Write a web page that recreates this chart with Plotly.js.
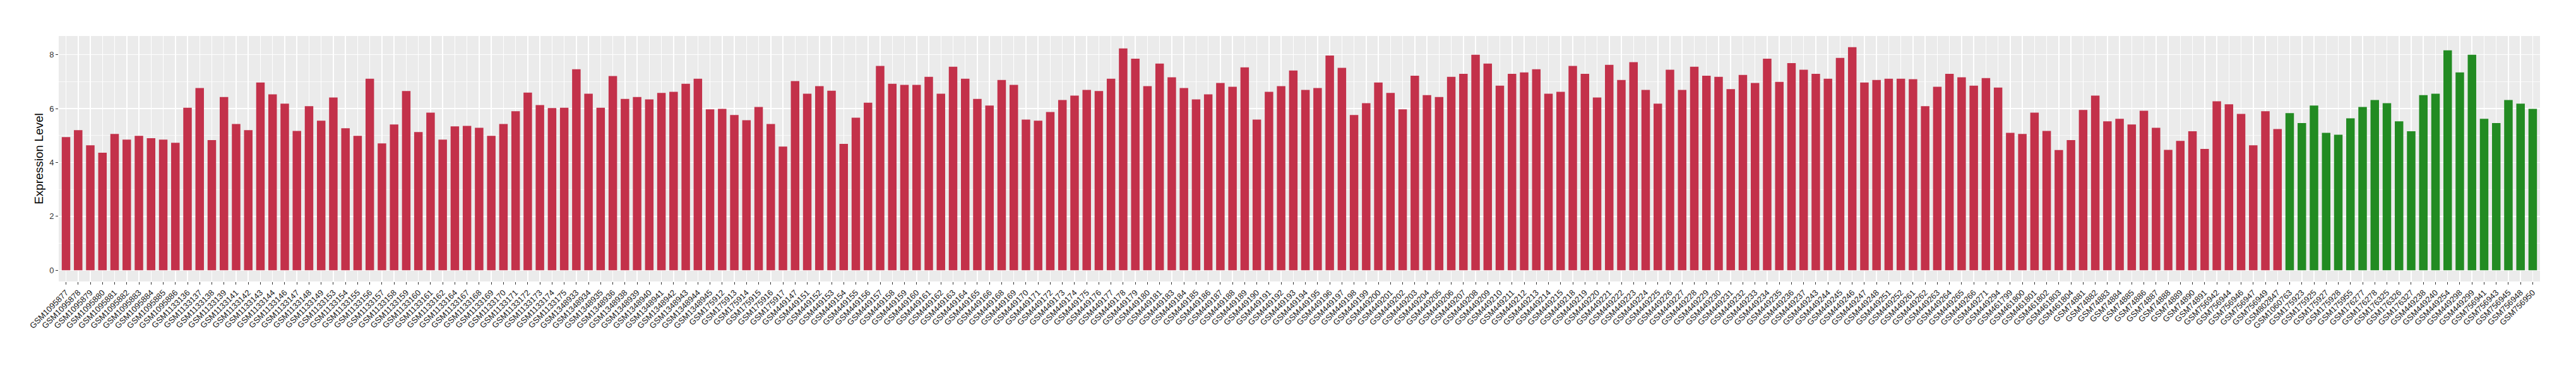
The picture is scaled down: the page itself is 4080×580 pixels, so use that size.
<!DOCTYPE html>
<html>
<head>
<meta charset="utf-8">
<script src="https://cdn.plot.ly/plotly-3.0.1.min.js"></script>
<style>html,body{margin:0;padding:0;background:#fff;}#chart{width:4080px;height:580px;}</style>
</head>
<body>
<div id="chart"></div>
<script>
const redSamples = [
"GSM1095877","GSM1095878","GSM1095879","GSM1095880","GSM1095881","GSM1095882","GSM1095883","GSM1095884","GSM1095885","GSM1095886",
"GSM1133136","GSM1133137","GSM1133138","GSM1133139","GSM1133141","GSM1133142","GSM1133143","GSM1133144","GSM1133146","GSM1133147",
"GSM1133148","GSM1133149","GSM1133153","GSM1133154","GSM1133155","GSM1133156","GSM1133157","GSM1133158","GSM1133159","GSM1133160",
"GSM1133161","GSM1133162","GSM1133164","GSM1133167","GSM1133168","GSM1133169","GSM1133170","GSM1133171","GSM1133172","GSM1133173",
"GSM1133174","GSM1133175","GSM1348933","GSM1348934","GSM1348935","GSM1348936","GSM1348938","GSM1348939","GSM1348940","GSM1348941",
"GSM1348942","GSM1348943","GSM1348944","GSM1348945","GSM175912","GSM175913","GSM175914","GSM175915","GSM175916","GSM175917",
"GSM449147","GSM449151","GSM449152","GSM449153","GSM449154","GSM449155","GSM449156","GSM449157","GSM449158","GSM449159",
"GSM449160","GSM449161","GSM449162","GSM449163","GSM449164","GSM449165","GSM449166","GSM449168","GSM449169","GSM449170",
"GSM449171","GSM449172","GSM449173","GSM449174","GSM449175","GSM449176","GSM449177","GSM449178","GSM449179","GSM449180",
"GSM449181","GSM449183","GSM449184","GSM449185","GSM449186","GSM449187","GSM449188","GSM449189","GSM449190","GSM449191",
"GSM449192","GSM449193","GSM449194","GSM449195","GSM449196","GSM449197","GSM449198","GSM449199","GSM449200","GSM449201",
"GSM449202","GSM449203","GSM449204","GSM449205","GSM449206","GSM449207","GSM449208","GSM449209","GSM449210","GSM449211",
"GSM449212","GSM449213","GSM449214","GSM449215","GSM449218","GSM449219","GSM449220","GSM449221","GSM449222","GSM449223",
"GSM449224","GSM449225","GSM449226","GSM449227","GSM449228","GSM449229","GSM449230","GSM449231","GSM449232","GSM449233",
"GSM449234","GSM449235","GSM449236","GSM449237","GSM449243","GSM449244","GSM449245","GSM449246","GSM449247","GSM449248",
"GSM449251","GSM449252","GSM449261","GSM449262","GSM449263","GSM449264","GSM449265","GSM449266","GSM449271","GSM449294",
"GSM461799","GSM461800","GSM461801","GSM461802","GSM461803","GSM461804","GSM74881","GSM74882","GSM74883","GSM74884",
"GSM74885","GSM74886","GSM74887","GSM74888","GSM74889","GSM74890","GSM74891","GSM756942","GSM756944","GSM756946",
"GSM756947","GSM756949","GSM802847"
];
const redValues = [
4.94,5.20,4.64,4.36,5.06,4.85,4.99,4.90,4.85,4.73,
6.03,6.76,4.83,6.43,5.43,5.20,6.97,6.53,6.18,5.17,
6.09,5.55,6.41,5.27,4.99,7.11,4.71,5.41,6.65,5.13,
5.85,4.85,5.34,5.36,5.29,4.99,5.43,5.90,6.59,6.13,
6.02,6.03,7.46,6.55,6.03,7.21,6.36,6.43,6.34,6.58,
6.62,6.92,7.11,5.97,5.99,5.76,5.57,6.06,5.43,4.59,
7.02,6.55,6.83,6.66,4.69,5.66,6.22,7.58,6.92,6.88,
6.88,7.18,6.55,7.55,7.11,6.36,6.11,7.06,6.88,5.59,
5.55,5.87,6.32,6.48,6.69,6.65,7.11,8.23,7.85,6.83,
7.67,7.16,6.76,6.34,6.53,6.95,6.81,7.53,5.59,6.62,
6.83,7.41,6.69,6.76,7.97,7.51,5.76,6.20,6.97,6.58,
5.97,7.22,6.50,6.43,7.18,7.29,8.00,7.67,6.85,7.29,
7.34,7.46,6.55,6.62,7.58,7.29,6.41,7.62,7.06,7.72,
6.69,6.18,7.44,6.69,7.55,7.22,7.18,6.72,7.25,6.95,
7.85,6.99,7.69,7.44,7.29,7.11,7.88,8.28,6.97,7.06,
7.11,7.11,7.09,6.09,6.81,7.29,7.16,6.85,7.13,6.78,
5.10,5.06,5.85,5.17,4.46,4.83,5.95,6.48,5.53,5.62,
5.41,5.92,5.29,4.47,4.80,5.16,4.50,6.27,6.16,5.80,
4.64,5.90,5.24
];
const greenSamples = [
"GSM1060763","GSM175923","GSM175925","GSM175927","GSM175928","GSM175955","GSM176277","GSM176278","GSM176325","GSM176326",
"GSM176327","GSM449238","GSM449240","GSM449254","GSM449298","GSM449299","GSM756941","GSM756943","GSM756945","GSM756948",
"GSM756950"
];
const greenValues = [
5.83,5.46,6.11,5.10,5.03,5.64,6.06,6.32,6.20,5.53,
5.16,6.50,6.55,8.16,7.34,8.00,5.62,5.46,6.32,6.18,
5.99
];
const yTicks = [0,2,4,6,8];
const yTitle = "Expression Level";

const allSamples = redSamples.concat(greenSamples);
const allValues = redValues.concat(greenValues);
const ymax = Math.max.apply(null, allValues);
const font = "Liberation Sans, Arial, Helvetica, sans-serif";

const traces = [
  {type:"bar", x:redSamples, y:redValues, width:0.7, marker:{color:"#C3314A"}, hoverinfo:"x+y", showlegend:false},
  {type:"bar", x:greenSamples, y:greenValues, width:0.7, marker:{color:"#228B22"}, hoverinfo:"x+y", showlegend:false}
];

const layout = {
  width:4080, height:580,
  margin:{l:93, r:57, t:57, b:134, pad:0},
  paper_bgcolor:"#ffffff", plot_bgcolor:"#EBEBEB",
  barmode:"overlay",
  font:{family:font, color:"#1a1a1a"},
  xaxis:{
    type:"category", categoryorder:"array", categoryarray:allSamples,
    tickmode:"array", tickvals:allSamples, ticktext:allSamples,
    tickangle:-45, tickfont:{family:font, size:13, color:"#1a1a1a"},
    ticks:"outside", ticklen:4, tickwidth:1, tickcolor:"#333333",
    showgrid:true, gridcolor:"#ffffff", gridwidth:1.5,
    zeroline:false, showline:false,
    range:[-0.6, allSamples.length - 0.4]
  },
  yaxis:{
    range:[-0.05*ymax, 1.05*ymax],
    tickmode:"array", tickvals:yTicks, ticktext:yTicks.map(String),
    tickfont:{family:font, size:13, color:"#333333"},
    ticks:"outside", ticklen:4, tickwidth:1, tickcolor:"#333333",
    showgrid:true, gridcolor:"#ffffff", gridwidth:1.5,
    minor:{tickvals:[1,3,5,7], showgrid:true, gridcolor:"#ffffff", gridwidth:0.7, ticks:""},
    zeroline:false, showline:false,
    title:{text:yTitle, font:{family:font, size:19, color:"#000000"}, standoff:4}
  }
};

Plotly.newPlot("chart", traces, layout, {displayModeBar:false, staticPlot:true});
</script>
</body>
</html>
